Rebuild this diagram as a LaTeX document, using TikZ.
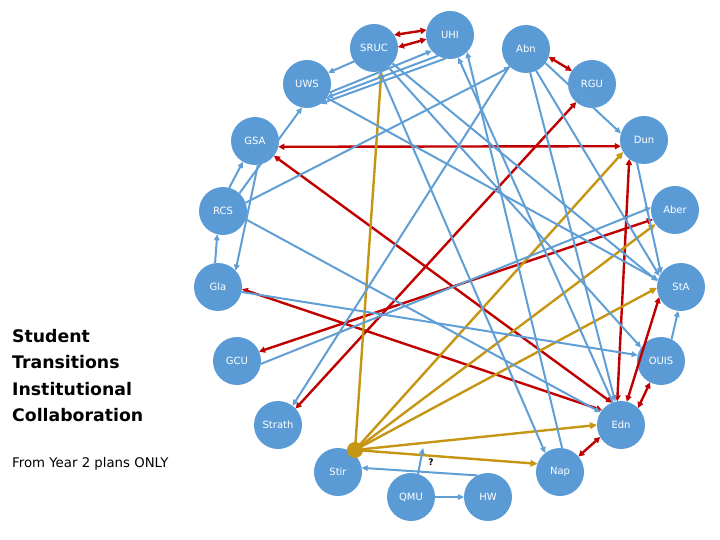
\documentclass[tikz,border=0pt]{standalone}
\usepackage{fontspec}
\setmainfont{DejaVu Sans}
\usetikzlibrary{arrows.meta}
\definecolor{nblue}{RGB}{91,155,213}
\definecolor{lblue}{RGB}{96,158,214}
\definecolor{dred}{RGB}{192,0,0}
\definecolor{gold}{RGB}{196,150,20}
\tikzset{
 inst/.style={circle, fill=nblue, minimum size=48pt, inner sep=0pt, outer sep=0pt, text=white, font=\fontsize{10}{12}\selectfont},
 bl/.style={draw=lblue, line width=2pt, -{Triangle[length=6pt,width=5.5pt]}},
 rd/.style={draw=dred, line width=2.4pt, {Triangle[length=6pt,width=6pt]}-{Triangle[length=6pt,width=6pt]}},
 gd/.style={draw=gold, line width=2.4pt, -{Triangle[length=7pt,width=6.5pt]}},
 ttl/.style={anchor=base west, inner sep=0pt, font=\bfseries\fontsize{17.3}{20}\selectfont},
}
\begin{document}
\begin{tikzpicture}[x={(1pt,0)}, y={(0,-1pt)}]
\useasboundingbox (0,0) rectangle (720,540);
\node[inst] (SRUC) at (374,48) {SRUC};
\node[inst] (UHI) at (450,35) {UHI};
\node[inst] (Abn) at (526,49) {Abn};
\node[inst] (RGU) at (592,84) {RGU};
\node[inst] (UWS) at (307,84) {UWS};
\node[inst] (GSA) at (255,141) {GSA};
\node[inst] (Dun) at (644,140) {Dun};
\node[inst] (RCS) at (223,211) {RCS};
\node[inst] (Aber) at (675,210) {Aber};
\node[inst] (Gla) at (218,287) {Gla};
\node[inst] (StA) at (681,287) {StA};
\node[inst] (GCU) at (237,361) {GCU};
\node[inst] (OUIS) at (661,361) {OUIS};
\node[inst] (Strath) at (278,425) {Strath};
\node[inst] (Edn) at (621,425) {Edn};
\node[inst] (Stir) at (338,472) {Stir};
\node[inst] (Nap) at (560,472) {Nap};
\node[inst] (QMU) at (411,497) {QMU};
\node[inst] (HW) at (488,497) {HW};
\node[circle, fill=gold, minimum size=16pt, inner sep=0pt] (hub) at (355,450) {};
% red
\draw[rd] (SRUC.33) -- (UHI.168);
\draw[rd] (SRUC.2) -- (UHI.190);
\draw[rd] (Abn.-19) -- (RGU.147);
\draw[rd] (GSA.-14) -- (Dun.195);
\draw[rd] (GSA.-38) -- (Edn.112);
\draw[rd] (Gla.-5) -- (Edn.142);
\draw[rd] (Strath.43) -- (RGU.229);
\draw[rd] (GCU.23) -- (Aber.203);
\draw[rd] (Dun.232) -- (Edn.99);
\draw[rd] (StA.205) -- (Edn.76);
\draw[rd] (OUIS.243) -- (Edn.45);
\draw[rd] (Edn.210) -- (Nap.40);
% gold
\draw[gd] (hub.center) -- (SRUC.-72);
\draw[gd] (hub.center) -- (Dun.210);
\draw[gd] (hub.center) -- (Aber.216);
\draw[gd] (hub.center) -- (StA.182);
\draw[gd] (hub.center) -- (Edn.180);
\draw[gd] (hub.center) -- (Nap.160);
% blue
\draw[bl] (SRUC.214) -- (UWS.28);
\draw[bl] (UWS.-21) -- (UHI.221);
\draw[bl] (UHI.240) -- (UWS.-34);
\draw[bl] (UHI.259) -- (UWS.-55);
\draw[bl] (SRUC.-76) -- (Nap.128);
\draw[bl] (SRUC.-53) -- (OUIS.146);
\draw[bl] (SRUC.-40) -- (StA.166);
\draw[bl] (UWS.-35) -- (StA.163);
\draw[bl] (Abn.-36) -- (Dun.164);
\draw[bl] (Abn.-65) -- (StA.153);
\draw[bl] (Abn.-80) -- (Edn.104);
\draw[bl] (Abn.226) -- (Strath.53);
\draw[bl] (RCS.20) -- (Abn.229);
\draw[bl] (RCS.-20) -- (Edn.148);
\draw[bl] (RCS.47) -- (UWS.258);
\draw[bl] (GSA.-83) -- (Gla.43);
\draw[bl] (RCS.75) -- (GSA.240);
\draw[bl] (Gla.97) -- (RCS.256);
\draw[bl] (Gla.-12) -- (OUIS.166);
\draw[bl] (GCU.-7) -- (Aber.174);
\draw[bl] (Nap.85) -- (UHI.-45);
\draw[bl] (Edn.110) -- (UHI.-70);
\draw[bl] (Dun.253) -- (StA.146);
\draw[bl] (OUIS.64) -- (StA.263);
\draw[bl] (HW.116) -- (Stir.10);
\draw[bl] (QMU.0) -- (HW.180);
\coordinate (q) at (423,448);
\draw[bl] (QMU.73) -- (q);
\node[inner sep=0pt, font=\bfseries\fontsize{9}{10}\selectfont] (qm) at (431,462) {?};
% titles
\node[ttl] (t1) at (12,342) {Student};
\node[ttl] (t2) at (12,368) {Transitions};
\node[ttl] (t3) at (12,395) {Institutional};
\node[ttl] (t4) at (12,421) {Collaboration};
\node[anchor=base west, inner sep=0pt, font=\fontsize{13.3}{15}\selectfont] (t5) at (12,467) {From Year 2 plans ONLY};
\end{tikzpicture}
\end{document}
